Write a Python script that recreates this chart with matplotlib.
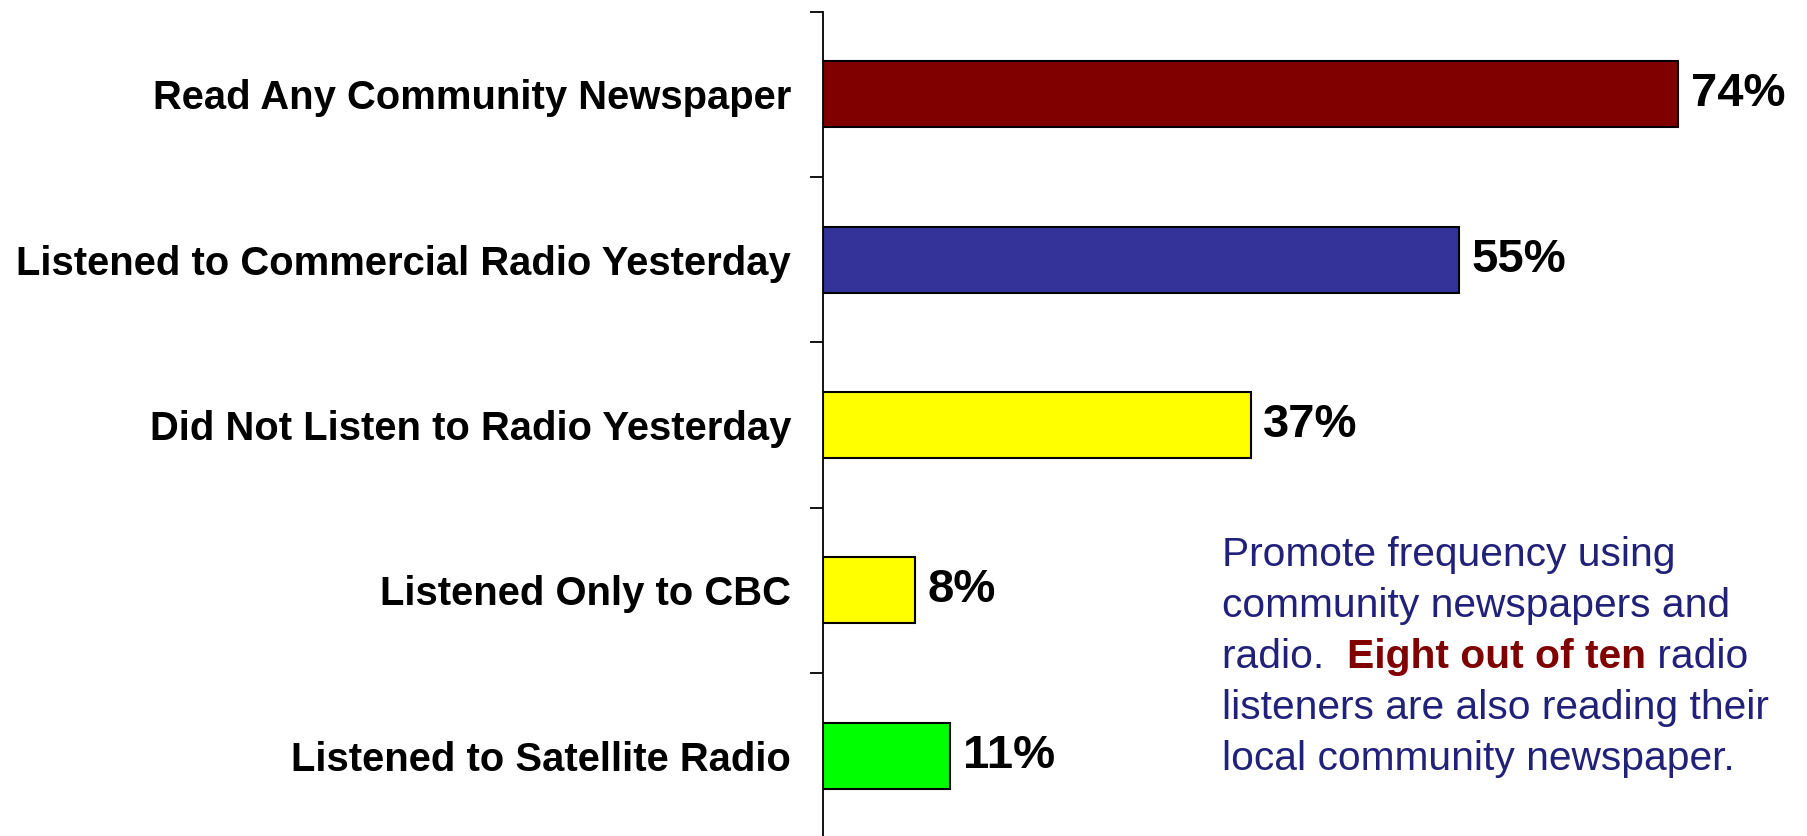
import numpy as np
import matplotlib
matplotlib.use("Agg")
import matplotlib.pyplot as plt

plt.rcParams['font.family'] = ['Liberation Sans', 'DejaVu Sans']

# data
categories = ["Read Any Community Newspaper",
              "Listened to Commercial Radio Yesterday",
              "Did Not Listen to Radio Yesterday",
              "Listened Only to CBC",
              "Listened to Satellite Radio"]
values = [74, 55, 37, 8, 11]
colors = ["#800000", "#333399", "#FFFF00", "#FFFF00", "#00FF00"]

note_lines = ["Promote frequency using",
              "community newspapers and",
              None,  # mixed colour line, built below
              "listeners are also reading their",
              "local community newspaper."]
note_color = "#21217A"
accent_color = "#800000"

W, H = 1808, 836
fig = plt.figure(figsize=(W / 100, H / 100), dpi=100)

# axes placed so the axis line sits at x=823px, first tick at y=11.5px
ax = fig.add_axes([823 / W, 1 - 838.5 / H, 1 - 823 / W, (838.5 - 11.5) / H])

y = np.arange(len(categories))
bars = ax.barh(y, values, height=0.4, color=colors, edgecolor="black", linewidth=1.5)

ax.set_xlim(0, (W - 823) / 11.56)
ax.set_ylim(len(categories) - 0.5, -0.5)

for s in ["top", "right", "bottom"]:
    ax.spines[s].set_visible(False)
ax.spines["left"].set_linewidth(1.3)
ax.set_xticks([])

ax.set_yticks(y)
ax.set_yticklabels(categories, fontsize=28.8, fontweight="bold")
ax.tick_params(axis="y", which="major", length=0, pad=23)
ax.set_yticks(np.arange(-0.5, len(categories)), minor=True)
ax.tick_params(axis="y", which="minor", length=9.5, width=1.3, direction="out")

ax.bar_label(bars, labels=[f"{v}%" for v in values], padding=9,
             fontsize=34, fontweight="bold")

# annotation block
x0 = 1222 / W
base = [566, 617, 668, 719, 770]
fs = 29.3
for line, b in zip(note_lines, base):
    if line is None:
        continue
    fig.text(x0, 1 - b / H, line, fontsize=fs, color=note_color, va="baseline")

t1 = fig.text(x0, 1 - base[2] / H, "radio.  ", fontsize=fs, color=note_color, va="baseline")
t2 = fig.text(0, 0, "Eight out of ten", fontsize=fs, color=accent_color,
              fontweight="bold", va="baseline")
fig.canvas.draw()
r = fig.canvas.get_renderer()
bb = t1.get_window_extent(r)
t2.set_position((bb.x1 / W, 1 - base[2] / H))
fig.canvas.draw()
bb2 = t2.get_window_extent(r)
fig.text(bb2.x1 / W, 1 - base[2] / H, " radio", fontsize=fs, color=note_color, va="baseline")

fig.savefig("out.png", dpi=100)
